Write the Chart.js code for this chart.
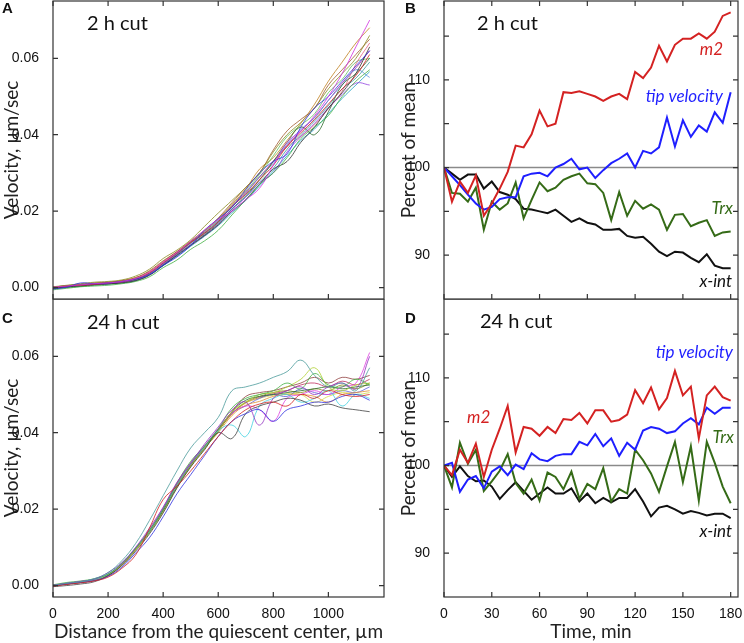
<!DOCTYPE html>
<html>
<head>
<meta charset="utf-8">
<script src="https://cdn.jsdelivr.net/npm/chart.js@4.4.0/dist/chart.umd.min.js"></script>
<style>
body { margin: 0; background: #fff; width: 744px; height: 643px; overflow: hidden; position: relative; }
.p { position: absolute; }
canvas { display: block; }
</style>
</head>
<body>
<div class="p" style="left:0px;top:0px"><canvas id="cA" width="386" height="300"></canvas></div>
<div class="p" style="left:0px;top:299px"><canvas id="cC" width="386" height="344"></canvas></div>
<div class="p" style="left:390px;top:0px"><canvas id="cB" width="354" height="300"></canvas></div>
<div class="p" style="left:390px;top:299px"><canvas id="cD" width="354" height="344"></canvas></div>
<script>
// distance from QC (um) and time (min)
const distance = [0,50,100,150,200,250,300,350,400,450,500,550,600,650,700,750,800,850,900,950,1000,1050,1100,1150];
const time = [0,5,10,15,20,25,30,35,40,45,50,55,60,65,70,75,80,85,90,95,100,105,110,115,120,125,130,135,140,145,150,155,160,165,170,175,180];

// tick values
const distTicks = [0,200,400,600,800,1000];
const timeTicks = [0,30,60,90,120,150,180];
const velTicks = [0,0.02,0.04,0.06];
const pctTicks = [90,95,100,105,110,115];

// A: velocity profiles, 2 h cut
const velA = [
	[0.0001,0.0004,0.0007,0.0010,0.0012,0.0016,0.0024,0.0040,0.0066,0.0092,0.0121,0.0150,0.0178,0.0200,0.0230,0.0260,0.0320,0.0380,0.0410,0.0450,0.0500,0.0560,0.0630,0.0700],
	[-0.0004,0.0001,0.0012,0.0010,0.0012,0.0016,0.0022,0.0034,0.0058,0.0080,0.0110,0.0150,0.0180,0.0210,0.0256,0.0300,0.0330,0.0350,0.0420,0.0470,0.0500,0.0540,0.0580,0.0620],
	[0.0002,0.0006,0.0010,0.0014,0.0016,0.0020,0.0030,0.0048,0.0076,0.0098,0.0125,0.0160,0.0195,0.0228,0.0262,0.0300,0.0355,0.0400,0.0432,0.0470,0.0520,0.0560,0.0600,0.0660],
	[-0.0006,-0.0002,0.0002,0.0004,0.0006,0.0010,0.0016,0.0028,0.0052,0.0072,0.0100,0.0122,0.0150,0.0190,0.0230,0.0270,0.0300,0.0340,0.0390,0.0420,0.0450,0.0500,0.0540,0.0570],
	[0.0000,0.0004,0.0006,0.0008,0.0012,0.0015,0.0022,0.0038,0.0064,0.0090,0.0118,0.0142,0.0172,0.0212,0.0244,0.0282,0.0320,0.0370,0.0405,0.0440,0.0480,0.0520,0.0555,0.0610],
	[0.0001,0.0005,0.0008,0.0012,0.0014,0.0018,0.0026,0.0044,0.0070,0.0094,0.0120,0.0146,0.0182,0.0222,0.0262,0.0300,0.0360,0.0410,0.0440,0.0470,0.0530,0.0570,0.0610,0.0650],
	[-0.0002,0.0002,0.0004,0.0008,0.0010,0.0012,0.0018,0.0032,0.0058,0.0084,0.0110,0.0136,0.0164,0.0200,0.0230,0.0270,0.0310,0.0330,0.0380,0.0420,0.0470,0.0510,0.0560,0.0630],
	[0.0000,0.0002,0.0005,0.0008,0.0010,0.0013,0.0018,0.0034,0.0060,0.0086,0.0112,0.0136,0.0166,0.0204,0.0236,0.0274,0.0300,0.0355,0.0395,0.0430,0.0470,0.0505,0.0535,0.0530],
	[0.0001,0.0004,0.0007,0.0009,0.0012,0.0015,0.0021,0.0036,0.0062,0.0088,0.0116,0.0140,0.0170,0.0206,0.0238,0.0276,0.0312,0.0362,0.0400,0.0436,0.0476,0.0520,0.0548,0.0590],
	[-0.0003,0.0000,0.0003,0.0006,0.0009,0.0012,0.0018,0.0034,0.0060,0.0086,0.0112,0.0138,0.0168,0.0206,0.0240,0.0282,0.0330,0.0380,0.0420,0.0400,0.0460,0.0530,0.0560,0.0600],
	[0.0000,0.0003,0.0006,0.0008,0.0010,0.0014,0.0020,0.0036,0.0060,0.0090,0.0118,0.0144,0.0174,0.0212,0.0246,0.0290,0.0325,0.0375,0.0414,0.0444,0.0490,0.0530,0.0570,0.0550],
	[0.0002,0.0004,0.0008,0.0010,0.0013,0.0017,0.0024,0.0040,0.0066,0.0090,0.0116,0.0142,0.0172,0.0214,0.0250,0.0288,0.0330,0.0368,0.0396,0.0426,0.0468,0.0514,0.0585,0.0640],
	[0.0001,0.0005,0.0008,0.0011,0.0013,0.0017,0.0023,0.0036,0.0058,0.0086,0.0120,0.0148,0.0176,0.0215,0.0252,0.0296,0.0345,0.0395,0.0425,0.0455,0.0510,0.0545,0.0590,0.0600],
	[0.0000,0.0003,0.0006,0.0010,0.0013,0.0018,0.0026,0.0042,0.0068,0.0094,0.0122,0.0150,0.0180,0.0218,0.0258,0.0310,0.0340,0.0385,0.0430,0.0480,0.0540,0.0590,0.0640,0.0680],
	[-0.0002,0.0001,0.0004,0.0007,0.0009,0.0013,0.0019,0.0033,0.0057,0.0082,0.0108,0.0134,0.0162,0.0196,0.0228,0.0266,0.0305,0.0345,0.0385,0.0415,0.0455,0.0495,0.0530,0.0565],
	[0.0000,0.0004,0.0006,0.0009,0.0011,0.0015,0.0022,0.0038,0.0064,0.0090,0.0117,0.0143,0.0175,0.0212,0.0248,0.0290,0.0330,0.0372,0.0410,0.0446,0.0490,0.0535,0.0575,0.0620]
];

// C: velocity profiles, 24 h cut
const velC = [
	[0.0000,0.0006,0.0010,0.0018,0.0034,0.0065,0.0110,0.0170,0.0235,0.0300,0.0360,0.0400,0.0440,0.0510,0.0520,0.0530,0.0545,0.0560,0.0590,0.0550,0.0520,0.0530,0.0510,0.0570],
	[-0.0002,0.0003,0.0007,0.0012,0.0022,0.0045,0.0080,0.0150,0.0225,0.0260,0.0300,0.0345,0.0390,0.0430,0.0460,0.0475,0.0480,0.0470,0.0500,0.0490,0.0510,0.0500,0.0495,0.0500],
	[0.0001,0.0006,0.0011,0.0017,0.0034,0.0060,0.0100,0.0150,0.0205,0.0270,0.0320,0.0370,0.0415,0.0460,0.0480,0.0420,0.0490,0.0510,0.0520,0.0500,0.0520,0.0530,0.0515,0.0600],
	[0.0002,0.0008,0.0012,0.0018,0.0030,0.0058,0.0098,0.0145,0.0200,0.0268,0.0325,0.0365,0.0410,0.0465,0.0490,0.0500,0.0510,0.0530,0.0515,0.0555,0.0525,0.0520,0.0540,0.0525],
	[-0.0001,0.0004,0.0008,0.0013,0.0024,0.0048,0.0085,0.0125,0.0180,0.0240,0.0290,0.0340,0.0390,0.0430,0.0450,0.0460,0.0430,0.0460,0.0470,0.0480,0.0480,0.0495,0.0500,0.0485],
	[-0.0003,0.0000,0.0004,0.0010,0.0026,0.0052,0.0090,0.0135,0.0190,0.0255,0.0310,0.0355,0.0400,0.0385,0.0450,0.0470,0.0480,0.0490,0.0485,0.0470,0.0475,0.0465,0.0460,0.0455],
	[0.0000,0.0005,0.0010,0.0016,0.0030,0.0058,0.0098,0.0142,0.0200,0.0262,0.0318,0.0362,0.0405,0.0420,0.0390,0.0470,0.0490,0.0500,0.0480,0.0490,0.0510,0.0470,0.0500,0.0490],
	[0.0001,0.0005,0.0009,0.0014,0.0028,0.0054,0.0094,0.0138,0.0192,0.0256,0.0312,0.0358,0.0404,0.0455,0.0480,0.0500,0.0505,0.0520,0.0540,0.0570,0.0520,0.0510,0.0525,0.0530],
	[0.0000,0.0004,0.0008,0.0014,0.0026,0.0054,0.0096,0.0142,0.0198,0.0262,0.0316,0.0362,0.0408,0.0455,0.0495,0.0505,0.0510,0.0520,0.0530,0.0545,0.0530,0.0545,0.0540,0.0550],
	[0.0001,0.0005,0.0009,0.0015,0.0030,0.0056,0.0098,0.0146,0.0204,0.0268,0.0322,0.0366,0.0410,0.0450,0.0470,0.0460,0.0430,0.0490,0.0500,0.0510,0.0500,0.0520,0.0530,0.0610],
	[0.0000,0.0004,0.0009,0.0015,0.0028,0.0056,0.0096,0.0140,0.0196,0.0258,0.0312,0.0358,0.0404,0.0455,0.0485,0.0495,0.0500,0.0505,0.0510,0.0515,0.0520,0.0515,0.0520,0.0525],
	[0.0000,0.0005,0.0009,0.0015,0.0028,0.0055,0.0094,0.0140,0.0196,0.0262,0.0318,0.0360,0.0400,0.0445,0.0472,0.0482,0.0495,0.0500,0.0500,0.0495,0.0480,0.0500,0.0505,0.0510],
	[0.0000,0.0004,0.0008,0.0014,0.0027,0.0054,0.0094,0.0140,0.0198,0.0262,0.0316,0.0360,0.0405,0.0450,0.0480,0.0495,0.0505,0.0510,0.0505,0.0515,0.0510,0.0525,0.0515,0.0530],
	[0.0001,0.0005,0.0010,0.0016,0.0030,0.0057,0.0097,0.0143,0.0200,0.0264,0.0318,0.0364,0.0410,0.0452,0.0470,0.0490,0.0500,0.0495,0.0515,0.0505,0.0500,0.0510,0.0505,0.0520],
	[0.0000,0.0004,0.0009,0.0015,0.0029,0.0055,0.0095,0.0141,0.0197,0.0260,0.0315,0.0362,0.0407,0.0448,0.0478,0.0490,0.0498,0.0502,0.0500,0.0480,0.0495,0.0505,0.0500,0.0505],
	[0.0000,0.0005,0.0009,0.0015,0.0029,0.0056,0.0097,0.0144,0.0202,0.0266,0.0320,0.0364,0.0407,0.0450,0.0478,0.0492,0.0502,0.0510,0.0525,0.0530,0.0520,0.0535,0.0525,0.0540]
];
const curveColors = ['#d030e0','#3030e0','#8a8a20','#40b040','#d02020','#a05a30','#303030','#9040e0','#3a9a9a','#2a6a2a','#6090e0','#e06080','#60c060','#c08020','#20a0c0','#a020a0'];
const curveColorsC = ['#4a9a9a','#d02020','#9030c0','#40b040','#3030e0','#404040','#40d0e0','#b0d030','#904040','#e040e0','#2a6a2a','#e09030','#8a8a20','#6060e0','#d8d840','#c03060'];

// B: percent of mean, 2 h cut
const m2B = [100,96.1,98.4,97.1,99.1,94.5,95.9,97.6,99.5,102.5,102.3,103.8,106.5,104.7,105.0,108.6,108.5,108.7,108.4,108.1,107.6,108.1,108.4,107.8,110.9,110.2,111.4,113.9,112.1,114.0,114.7,114.7,115.3,114.7,115.5,117.3,117.7];
const tipB = [100,99.0,98.0,96.9,95.9,95.2,95.5,96.4,96.6,96.6,99.0,99.3,99.4,99.0,100.0,100.4,101.0,99.8,100.0,98.8,99.7,100.5,101.0,101.6,100.0,101.9,101.6,102.3,105.7,102.4,105.4,103.5,104.8,104.1,106.3,105.1,108.6];
const trxB = [100,97.1,97.0,96.1,97.7,92.9,96.1,95.2,95.9,98.3,94.2,96.3,98.3,97.3,97.7,98.6,99.0,99.3,98.2,98.1,97.1,94.0,97.2,94.5,96.2,95.3,95.8,95.2,92.9,94.6,94.7,93.3,93.7,94.0,92.2,92.6,92.7];
const xintB = [100,99.3,98.6,99.2,99.2,97.6,98.4,97.2,96.9,96.4,95.3,95.2,95.0,94.8,95.2,94.5,93.8,94.2,93.7,93.5,92.9,92.9,93.0,92.2,92.0,92.1,91.3,90.4,89.9,90.4,90.3,89.7,89.2,90.1,88.8,88.5,88.5];

// D: percent of mean, 24 h cut
const m2D = [100,98.9,101.8,100.3,102.5,98.7,101.8,104.2,106.8,101.5,104.4,104.2,103.4,104.4,103.7,105.3,105.2,106.0,104.8,106.3,106.3,105.0,105.2,105.8,108.6,107.1,108.9,106.4,107.7,110.8,108.0,109.0,103.1,108.0,109.0,107.8,107.4];
const tipD = [100,100.3,97.0,98.4,98.8,97.4,99.3,99.9,98.9,100.1,99.6,101.4,100.7,100.5,101.1,101.3,101.3,102.7,102.3,103.6,102.2,103.1,101.1,102.6,101.8,104.0,104.4,104.2,103.7,103.9,104.8,105.4,104.7,106.6,105.9,106.6,106.6];
const trxD = [100,97.5,102.6,100.2,101.8,97.1,98.2,99.4,101.3,98.0,96.8,98.4,96.0,99.2,98.7,97.3,99.3,96.2,97.9,97.3,99.7,95.9,97.3,96.8,101.8,100.6,99.1,97.0,99.9,102.7,98.1,102.2,96.0,102.7,100.3,97.6,95.7];
const xintD = [100,98.7,99.9,98.8,98.2,98.3,97.6,96.2,97.2,98.1,97.1,96.1,96.8,97.5,96.8,96.8,97.4,95.9,96.8,95.7,96.3,95.8,96.3,96.3,97.3,95.9,94.2,95.2,95.4,95.0,94.5,94.8,94.6,94.3,94.5,94.5,94.0];

const cRed = '#d42222', cBlue = '#1f1fff', cGreen = '#356b17', cBlack = '#111';
const titleFont = { family: 'Lato', size: 19 };
const tickFont = { family: 'Liberation Sans', size: 14 };

// frame with inward ticks, reference line and text labels
const frame = {
	id: 'frame',
	beforeDatasetsDraw(chart, args, opts) {
		if (opts.refLine === undefined) return;
		const { ctx, chartArea: a, scales: { y } } = chart;
		const py = y.getPixelForValue(opts.refLine);
		ctx.save();
		ctx.strokeStyle = '#8a8a8a';
		ctx.lineWidth = 1.5;
		ctx.beginPath();
		ctx.moveTo(a.left, py);
		ctx.lineTo(a.right, py);
		ctx.stroke();
		ctx.restore();
	},
	afterDatasetsDraw(chart, args, opts) {
		const { ctx, chartArea: a, scales: { x, y } } = chart;
		const L = 5;
		ctx.save();
		ctx.strokeStyle = '#333';
		ctx.lineWidth = 1.2;
		ctx.strokeRect(a.left, a.top, a.right - a.left, a.bottom - a.top);
		ctx.beginPath();
		x.ticks.forEach(t => {
			const px = x.getPixelForValue(t.value);
			ctx.moveTo(px, a.bottom); ctx.lineTo(px, a.bottom - L);
			if (opts.topTicks) { ctx.moveTo(px, a.top); ctx.lineTo(px, a.top + L); }
		});
		y.ticks.forEach(t => {
			const py = y.getPixelForValue(t.value);
			ctx.moveTo(a.left, py); ctx.lineTo(a.left + L, py);
			ctx.moveTo(a.right, py); ctx.lineTo(a.right - L, py);
		});
		ctx.stroke();
		(opts.texts || []).forEach(t => {
			ctx.font = t.font;
			ctx.fillStyle = t.color || '#111';
			ctx.textAlign = t.align || 'left';
			ctx.textBaseline = 'middle';
			ctx.fillText(t.text, t.x, t.y);
		});
		ctx.restore();
	}
};

const pts = (xs, ys) => xs.map((v, i) => ({ x: v, y: ys[i] }));

makePanel = (id, cfg) => {
	const xTitle = cfg.xTitle ? { display: true, text: cfg.xTitle, font: titleFont, color: '#222', padding: { top: 0, bottom: 0 } } : { display: false };
	return new Chart(document.getElementById(id), {
		type: 'line',
		data: { datasets: cfg.datasets },
		options: {
			responsive: false,
			animation: false,
			devicePixelRatio: 1,
			layout: { padding: cfg.padding },
			plugins: { legend: { display: false }, tooltip: { enabled: false }, frame: cfg.frame },
			elements: { point: { radius: 0 } },
			scales: {
				x: {
					type: 'linear', min: cfg.xMin, max: cfg.xMax,
					afterBuildTicks: s => { s.ticks = cfg.xTicks.map(v => ({ value: v })); },
					afterFit: s => { s.height = cfg.xHeight; s.paddingLeft = 0; s.paddingRight = 0; },
					grid: { display: false }, border: { display: false },
					ticks: { display: !!cfg.xTitle, font: tickFont, color: '#111', padding: 1, maxRotation: 0, callback: v => String(v) },
					title: xTitle
				},
				y: {
					min: cfg.yMin, max: cfg.yMax,
					afterBuildTicks: s => { s.ticks = cfg.yTicks.map(v => ({ value: v })); },
					afterFit: s => { s.width = cfg.yWidth; s.paddingTop = 0; s.paddingBottom = 0; },
					grid: { display: false }, border: { display: false },
					ticks: { font: tickFont, color: '#111', padding: 6, callback: cfg.yLabel },
					title: { display: true, text: cfg.yTitle, font: titleFont, color: '#222', padding: cfg.yTitlePad }
				}
			}
		},
		plugins: [frame]
	});
};

velSets = (rows, colors) => rows.map((r, i) => ({
	data: pts(distance, r), borderColor: colors[i], borderWidth: 0.8, tension: 0.4, fill: false
}));
pctSets = (m2, tip, trx, xint) => [
	{ data: pts(time, m2), borderColor: cRed, borderWidth: 2, tension: 0 },
	{ data: pts(time, tip), borderColor: cBlue, borderWidth: 2, tension: 0 },
	{ data: pts(time, trx), borderColor: cGreen, borderWidth: 2, tension: 0 },
	{ data: pts(time, xint), borderColor: cBlack, borderWidth: 2, tension: 0 }
];

const velLabel = v => v.toFixed(2);
const pctLabel = v => (v % 10 === 0 ? String(v) : '');
const letter = '700 15px "Liberation Sans"';
const cut = '20px Lato';
const it = 'italic 17px Lato';

makePanel('cA', {
	datasets: velSets(velA, curveColors),
	padding: { top: 1, right: 2, left: 0, bottom: 0 },
	xMin: 0, xMax: 1202, xTicks: distTicks, xHeight: 1,
	yMin: -0.003, yMax: 0.075, yTicks: velTicks, yWidth: 53, yLabel: velLabel,
	yTitle: 'Velocity, µm/sec', yTitlePad: { top: 0, bottom: 0 },
	frame: { topTicks: true, texts: [
		{ text: 'A', x: 2, y: 9, font: letter },
		{ text: '2 h cut', x: 87, y: 24, font: cut }
	] }
});

makePanel('cC', {
	datasets: velSets(velC, curveColorsC),
	padding: { top: 0, right: 2, left: 0, bottom: 0 },
	xMin: 0, xMax: 1202, xTicks: distTicks, xHeight: 46, xTitle: 'Distance from the quiescent center, µm',
	yMin: -0.003, yMax: 0.075, yTicks: velTicks, yWidth: 53, yLabel: velLabel,
	yTitle: 'Velocity, µm/sec', yTitlePad: { top: 0, bottom: 0 },
	frame: { topTicks: false, texts: [
		{ text: 'C', x: 2, y: 20, font: letter },
		{ text: '24 h cut', x: 87, y: 24, font: cut }
	] }
});

makePanel('cB', {
	datasets: pctSets(m2B, tipB, trxB, xintB),
	padding: { top: 1, right: 6, left: 0, bottom: 0 },
	xMin: 0, xMax: 184.6, xTicks: timeTicks, xHeight: 1,
	yMin: 85, yMax: 119, yTicks: pctTicks, yWidth: 54, yLabel: pctLabel,
	yTitle: 'Percent of mean', yTitlePad: { top: 7, bottom: 0 },
	frame: { topTicks: true, refLine: 100, texts: [
		{ text: 'B', x: 15, y: 9, font: letter },
		{ text: '2 h cut', x: 87, y: 24, font: cut },
		{ text: 'm2', x: 333, y: 50, font: it, color: cRed, align: 'right' },
		{ text: 'tip velocity', x: 333, y: 97, font: it, color: cBlue, align: 'right' },
		{ text: 'Trx', x: 343, y: 209, font: it, color: cGreen, align: 'right' },
		{ text: 'x-int', x: 342, y: 282, font: it, color: cBlack, align: 'right' }
	] }
});

makePanel('cD', {
	datasets: pctSets(m2D, tipD, trxD, xintD),
	padding: { top: 0, right: 6, left: 0, bottom: 0 },
	xMin: 0, xMax: 184.6, xTicks: timeTicks, xHeight: 46, xTitle: 'Time, min',
	yMin: 85, yMax: 119, yTicks: pctTicks, yWidth: 54, yLabel: pctLabel,
	yTitle: 'Percent of mean', yTitlePad: { top: 7, bottom: 0 },
	frame: { topTicks: false, refLine: 100, texts: [
		{ text: 'D', x: 15, y: 20, font: letter },
		{ text: '24 h cut', x: 90, y: 23, font: cut },
		{ text: 'tip velocity', x: 343, y: 54, font: it, color: cBlue, align: 'right' },
		{ text: 'm2', x: 77, y: 119, font: it, color: cRed },
		{ text: 'Trx', x: 344, y: 139, font: it, color: cGreen, align: 'right' },
		{ text: 'x-int', x: 342, y: 233, font: it, color: cBlack, align: 'right' }
	] }
});
</script>
</body>
</html>
